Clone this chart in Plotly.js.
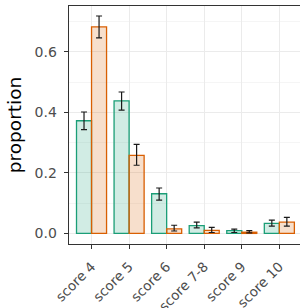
<!DOCTYPE html>
<html><head><meta charset="utf-8">
<script src="https://cdn.plot.ly/plotly-3.0.1.min.js"></script>
<style>html,body{margin:0;padding:0;background:#fff}#chart{width:300px;height:308px}</style>
</head><body><div id="chart"></div>
<script>
const categories = ["score 4","score 5","score 6","score 7-8","score 9","score 10"];
const groupA = [0.372, 0.438, 0.131, 0.026, 0.009, 0.033];
const groupAUpper = [0.401, 0.467, 0.150, 0.037, 0.014, 0.044];
const groupALower = [0.343, 0.407, 0.110, 0.018, 0.003, 0.024];
const groupB = [0.682, 0.258, 0.015, 0.010, 0.004, 0.037];
const groupBUpper = [0.718, 0.294, 0.027, 0.020, 0.009, 0.053];
const groupBLower = [0.646, 0.225, 0.008, 0.003, 0.002, 0.024];

function errs(v, up, lo){
  return {type:'data', symmetric:false,
    array: v.map((x,i)=>up[i]-x), arrayminus: v.map((x,i)=>x-lo[i]),
    color:'#1a1a1a', thickness:1.2, width:3};
}
const traces = [
  {type:'bar', x:categories, y:groupA, name:'A',
   marker:{color:'rgba(27,158,119,0.2)', line:{color:'#1b9e77', width:1.3}},
   error_y: errs(groupA, groupAUpper, groupALower)},
  {type:'bar', x:categories, y:groupB, name:'B',
   marker:{color:'rgba(217,95,2,0.2)', line:{color:'#d95f02', width:1.3}},
   error_y: errs(groupB, groupBUpper, groupBLower)}
];
const layout = {
  width:300, height:308, showlegend:false,
  paper_bgcolor:'#fff', plot_bgcolor:'#fff',
  margin:{l:68.5, r:0, t:6, b:64},
  barmode:'group', bargap:0.2, bargroupgap:0,
  font:{family:'DejaVu Sans, sans-serif', color:'#4d4d4d'},
  xaxis:{type:'category', range:[-0.6,5.55], showline:true, mirror:true,
    linecolor:'#333333', linewidth:1.4, ticks:'outside', ticklen:4, tickcolor:'#333333',
    tickwidth:1.1, showgrid:true, gridcolor:'#ebebeb', gridwidth:1.1,
    tickangle:-45, tickfont:{size:13.5, color:'#4d4d4d'}, zeroline:false, ticklabelstandoff:4},
  yaxis:{range:[-0.035,0.751], dtick:0.2, tick0:0, tickformat:'.1f',
    showline:true, linecolor:'#333333', linewidth:1.4, ticks:'outside', ticklen:4,
    tickcolor:'#333333', tickwidth:1.1, showgrid:true, gridcolor:'#ebebeb', gridwidth:1.1,
    minor:{dtick:0.1, tick0:0, showgrid:true, gridcolor:'#f2f2f2', gridwidth:0.8},
    zeroline:false, tickfont:{size:14, color:'#4d4d4d'}, ticklabelstandoff:4,
    title:{text:'proportion', font:{size:18.5, color:'#000'}, standoff:8}}
};
Plotly.newPlot('chart', traces, layout, {displayModeBar:false, staticPlot:true});
</script></body></html>
